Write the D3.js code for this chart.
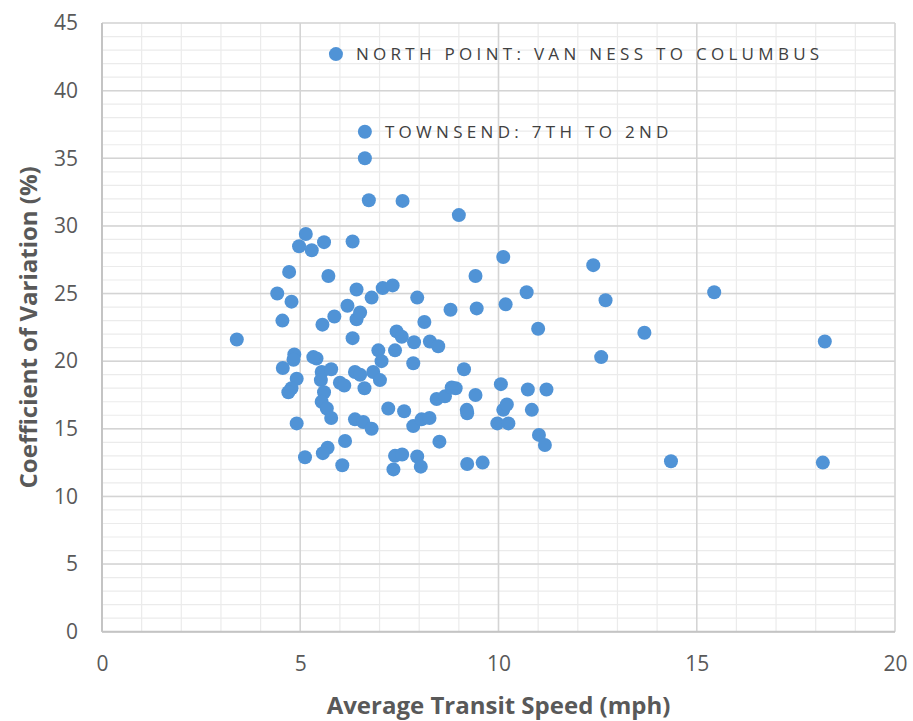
<!DOCTYPE html>
<html>
<head>
<meta charset="utf-8">
<script src="https://cdn.jsdelivr.net/npm/d3@7"></script>
<style>
  body { margin: 0; background: #ffffff; }
  svg { display: block; }
</style>
</head>
<body>
<div id="chart"></div>
<script>
var SVGWidth = 913;
var SVGHeight = 721;

// Average transit speed (mph) per segment
var speed = [
    3.40, 4.42, 4.55, 4.72, 4.78, 4.56, 4.85, 4.83, 4.91, 4.78,
    4.70, 4.91, 4.97, 5.14, 5.29, 5.60, 5.12, 5.41, 5.33, 5.54,
    5.78, 5.52, 5.60, 5.54, 5.67, 5.78, 5.56, 5.71, 5.86, 5.69,
    5.57, 6.00, 6.11, 6.13, 6.06, 6.19, 6.32, 6.32, 6.42, 6.42,
    6.51, 6.38, 6.51, 6.62, 6.38, 6.59, 6.80, 6.63, 6.73, 6.80,
    6.84, 6.97, 7.05, 7.01, 7.08, 7.33, 7.22, 7.39, 7.43, 7.56,
    7.39, 7.57, 7.35, 7.58, 7.62, 7.85, 7.87, 7.85, 7.95, 7.95,
    8.04, 8.06, 8.13, 8.26, 8.27, 8.48, 8.44, 8.51, 8.65, 8.79,
    8.92, 8.82, 9.00, 9.13, 9.20, 9.21, 9.21, 9.42, 9.42, 9.45,
    9.60, 9.97, 10.06, 10.12, 10.12, 10.21, 10.18, 10.25, 10.71, 10.74,
    10.84, 11.00, 11.02, 11.17, 11.21, 12.39, 12.59, 12.70, 13.68, 14.35,
    15.44, 18.23, 18.18
];

// Coefficient of variation (%) per segment
var cv = [
    21.6, 25.0, 23.0, 26.6, 24.4, 19.5, 20.5, 20.1, 18.7, 18.0,
    17.7, 15.4, 28.5, 29.4, 28.2, 28.8, 12.9, 20.2, 20.3, 19.2,
    19.4, 18.6, 17.7, 17.0, 16.5, 15.8, 22.7, 26.3, 23.3, 13.6,
    13.2, 18.4, 18.2, 14.1, 12.3, 24.1, 28.85, 21.7, 25.3, 23.1,
    23.6, 19.2, 19.0, 18.0, 15.7, 15.5, 15.0, 35.0, 31.9, 24.7,
    19.2, 20.8, 20.0, 18.6, 25.4, 25.6, 16.5, 20.8, 22.2, 21.8,
    13.0, 13.1, 12.0, 31.85, 16.3, 19.85, 21.4, 15.2, 24.7, 12.95,
    12.2, 15.7, 22.9, 15.8, 21.45, 21.1, 17.2, 14.05, 17.4, 23.8,
    18.0, 18.05, 30.8, 19.4, 16.4, 16.15, 12.4, 26.3, 17.5, 23.9,
    12.5, 15.4, 18.3, 27.7, 16.4, 16.8, 24.2, 15.4, 25.1, 17.9,
    16.4, 22.4, 14.55, 13.8, 17.9, 27.1, 20.3, 24.5, 22.1, 12.6,
    25.1, 21.45, 12.5
];

// Labelled segments
var labelNames = ["NORTH POINT: VAN NESS TO COLUMBUS", "TOWNSEND: 7TH TO 2ND"];
var labelSpeed = [5.90, 6.63];
var labelCv = [42.7, 36.96];

var xTicks = [0, 5, 10, 15, 20];
var yTicks = [0, 5, 10, 15, 20, 25, 30, 35, 40, 45];

var svg = d3.select("#chart")
    .append("svg")
        .attr("width", SVGWidth)
        .attr("height", SVGHeight);

var x = d3.scaleLinear().domain([0, 20]).range([102, 895]);
var y = d3.scaleLinear().domain([0, 45]).range([631.7, 23]);

var grid = svg.append("g");

// minor grid, every 1 unit
grid.selectAll(".minorX")
    .data(d3.range(0, 21))
    .enter().append("line")
        .attr("x1", function(d) { return x(d); })
        .attr("x2", function(d) { return x(d); })
        .attr("y1", y(0))
        .attr("y2", y(45))
        .attr("stroke", "#ebebeb")
        .attr("stroke-width", 1.2);

grid.selectAll(".minorY")
    .data(d3.range(0, 46))
    .enter().append("line")
        .attr("x1", x(0))
        .attr("x2", x(20))
        .attr("y1", function(d) { return y(d); })
        .attr("y2", function(d) { return y(d); })
        .attr("stroke", "#ebebeb")
        .attr("stroke-width", 1.2);

// major grid
grid.selectAll(".majorX")
    .data(xTicks)
    .enter().append("line")
        .attr("x1", function(d) { return x(d); })
        .attr("x2", function(d) { return x(d); })
        .attr("y1", y(0))
        .attr("y2", y(45))
        .attr("stroke", "#d4d4d4")
        .attr("stroke-width", 1.5);

grid.selectAll(".majorY")
    .data(yTicks)
    .enter().append("line")
        .attr("x1", x(0))
        .attr("x2", x(20))
        .attr("y1", function(d) { return y(d); })
        .attr("y2", function(d) { return y(d); })
        .attr("stroke", "#d4d4d4")
        .attr("stroke-width", 1.5);

// axis lines
svg.append("line")
    .attr("x1", x(0)).attr("x2", x(0))
    .attr("y1", y(0)).attr("y2", y(45))
    .attr("stroke", "#c4c4c4").attr("stroke-width", 2);
svg.append("line")
    .attr("x1", x(0)).attr("x2", x(20))
    .attr("y1", y(0)).attr("y2", y(0))
    .attr("stroke", "#c4c4c4").attr("stroke-width", 2);

// Tick labels
var xAxis = d3.axisBottom(x).tickValues(xTicks).tickSize(0).tickPadding(24);
var gx = svg.append("g")
    .attr("transform", "translate(0," + y(0) + ")")
    .call(xAxis);
gx.select(".domain").remove();
gx.selectAll("text")
    .attr("fill", "#595959")
    .style("font-family", "'Open Sans', sans-serif")
    .style("font-size", "21px");

var yAxis = d3.axisLeft(y).tickValues(yTicks).tickSize(0).tickPadding(24);
var gy = svg.append("g")
    .attr("transform", "translate(" + x(0) + ",0)")
    .call(yAxis);
gy.select(".domain").remove();
gy.selectAll("text")
    .attr("fill", "#595959")
    .style("font-family", "'Open Sans', sans-serif")
    .style("font-size", "21px");

// Points
svg.append("g")
    .selectAll("circle")
    .data(d3.range(speed.length))
    .enter().append("circle")
        .attr("cx", function(i) { return x(speed[i]); })
        .attr("cy", function(i) { return y(cv[i]); })
        .attr("r", 7)
        .attr("fill", "#5093d6");

// Labelled points
var lab = svg.append("g")
    .selectAll("g")
    .data(d3.range(labelNames.length))
    .enter().append("g");
lab.append("circle")
    .attr("cx", function(i) { return x(labelSpeed[i]); })
    .attr("cy", function(i) { return y(labelCv[i]); })
    .attr("r", 7)
    .attr("fill", "#5093d6");
lab.append("text")
    .attr("x", function(i) { return x(labelSpeed[i]) + 20; })
    .attr("y", function(i) { return y(labelCv[i]); })
    .attr("dy", "0.36em")
    .attr("fill", "#404040")
    .style("font-family", "'Open Sans', sans-serif")
    .style("font-size", "17px")
    .style("letter-spacing", "4.3px")
    .text(function(i) { return labelNames[i]; });

// Axis titles
svg.append("text")
    .attr("x", (x(0) + x(20)) / 2)
    .attr("y", 714)
    .attr("text-anchor", "middle")
    .attr("fill", "#595959")
    .style("font-family", "'Open Sans', sans-serif")
    .style("font-weight", "bold")
    .style("font-size", "24px")
    .text("Average Transit Speed (mph)");

svg.append("text")
    .attr("transform", "translate(37," + ((y(0) + y(45)) / 2) + ") rotate(-90)")
    .attr("text-anchor", "middle")
    .attr("fill", "#595959")
    .style("font-family", "'Open Sans', sans-serif")
    .style("font-weight", "bold")
    .style("font-size", "24px")
    .text("Coefficient of Variation (%)");
</script>
</body>
</html>
